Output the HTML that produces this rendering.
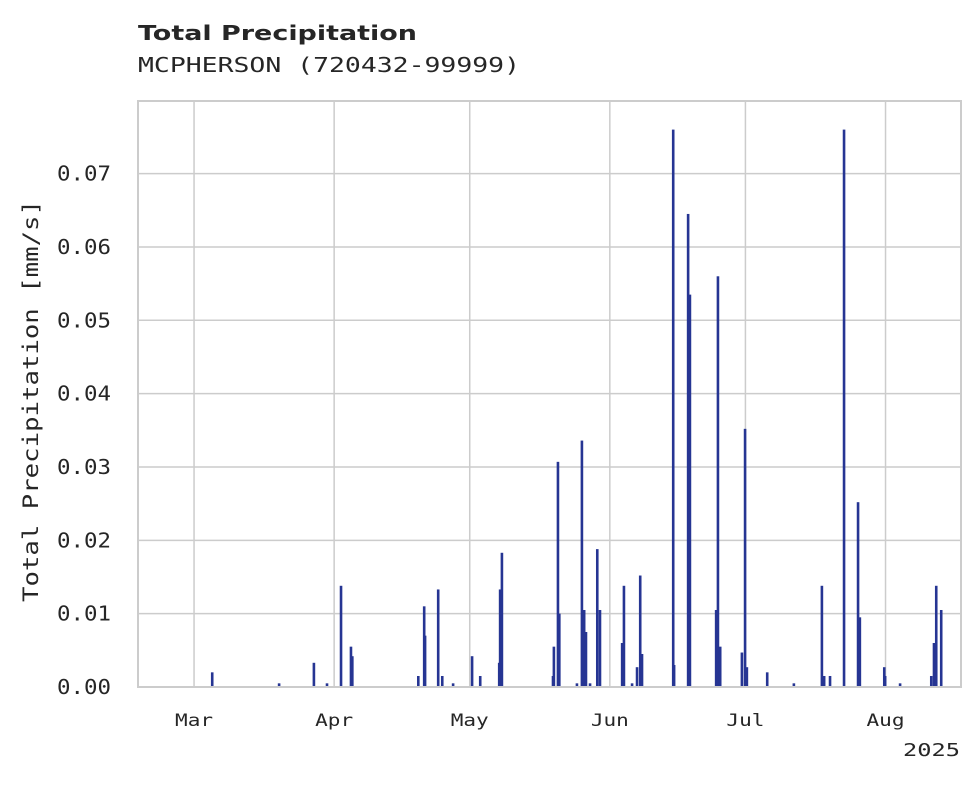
<!DOCTYPE html>
<html><head><meta charset="utf-8"><style>
body{margin:0;background:#fff;}
svg text{font-family:"DejaVu Sans Mono","Liberation Mono",monospace;fill:#262626;}
</style></head><body>
<svg id="chart" width="980" height="783" xmlns="http://www.w3.org/2000/svg">
<text x="138" y="40" textLength="279" lengthAdjust="spacingAndGlyphs" style="font-family:'DejaVu Sans','Liberation Sans',sans-serif;font-weight:bold;font-size:20px">Total Precipitation</text>
<text x="138" y="72" font-size="20" textLength="382" lengthAdjust="spacingAndGlyphs">MCPHERSON (720432-99999)</text>
<g id="grid"></g><g id="bars"></g><g id="axes"></g>
<text transform="translate(38,401) rotate(-90)" text-anchor="middle" font-size="21" textLength="402" lengthAdjust="spacingAndGlyphs">Total Precipitation [mm/s]</text>
<text x="960" y="756" text-anchor="end" font-size="18" textLength="57" lengthAdjust="spacingAndGlyphs">2025</text>
</svg>
<script>
// day offsets from Mar 1, 2025
const days=[4.0,18.8,26.5,29.4,32.5,34.7,35.0,49.6,50.9,51.1,54.0,54.9,57.3,61.5,63.3,67.5,67.7,68.1,79.4,79.6,80.5,80.8,84.7,85.8,86.3,86.7,87.6,89.2,89.8,94.7,95.1,96.9,98.0,98.7,99.1,106.0,106.2,109.3,109.7,115.5,115.9,116.4,121.2,121.9,122.3,126.8,132.7,138.9,139.4,140.7,143.8,146.9,147.3,152.7,152.9,156.2,163.1,163.7,164.2,165.3];
const values=[0.002,0.0005,0.0033,0.0005,0.0138,0.0055,0.0042,0.0015,0.011,0.007,0.0133,0.0015,0.0005,0.0042,0.0015,0.0033,0.0133,0.0183,0.0015,0.0055,0.0307,0.010,0.0005,0.0336,0.0105,0.0075,0.0005,0.0188,0.0105,0.006,0.0138,0.0005,0.0027,0.0152,0.0045,0.076,0.003,0.0645,0.0535,0.0105,0.056,0.0055,0.0047,0.0352,0.0027,0.002,0.0005,0.0138,0.0015,0.0015,0.076,0.0252,0.0095,0.0027,0.0015,0.0005,0.0015,0.006,0.0138,0.0105];
const yTicks=[0,0.01,0.02,0.03,0.04,0.05,0.06,0.07];
const yTickLabels=["0.00","0.01","0.02","0.03","0.04","0.05","0.06","0.07"];
const monthDays=[0,31,61,92,122,153];
const monthLabels=["Mar","Apr","May","Jun","Jul","Aug"];
const L=138,R=961,T=101,B=687,dMin=-12.4,dMax=169.7,yMax=0.0799;
const xs=d=>L+(d-dMin)/(dMax-dMin)*(R-L);
const ys=v=>B-v/yMax*(B-T);
const NS="http://www.w3.org/2000/svg";
function mk(tag,attrs,parent){const e=document.createElementNS(NS,tag);for(const k in attrs)e.setAttribute(k,attrs[k]);parent.appendChild(e);return e;}
const grid=document.getElementById('grid'),bars=document.getElementById('bars'),axes=document.getElementById('axes');
yTicks.forEach((v,i)=>{const y=ys(v);
 const l=mk('line',{x1:L,x2:R,y1:y,y2:y,stroke:'#cccccc','stroke-width':1.5},grid);
 
 
 const t=mk('text',{x:111,y:y+7,'text-anchor':'end','font-size':20,textLength:54,lengthAdjust:'spacingAndGlyphs'},axes);t.textContent=yTickLabels[i];
 
 
});
monthDays.forEach((d,i)=>{const x=xs(d);
 const l=mk('line',{x1:x,x2:x,y1:T,y2:B,stroke:'#cccccc','stroke-width':1.5},grid);
 
 
 const t=mk('text',{x:x,y:726,'text-anchor':'middle','font-size':17,textLength:38,lengthAdjust:'spacingAndGlyphs'},axes);t.textContent=monthLabels[i];
 
 
});
days.forEach((d,i)=>{const x=xs(d),y=ys(values[i]);
 const r=mk('rect',{x:x-1.2,y:y,width:2.6,height:B-y,fill:'#263593'},bars);
 
 
});
const fr=mk('rect',{x:L,y:T,width:R-L,height:B-T,fill:'none',stroke:'#cccccc','stroke-width':2},axes);


</script>
</body></html>
